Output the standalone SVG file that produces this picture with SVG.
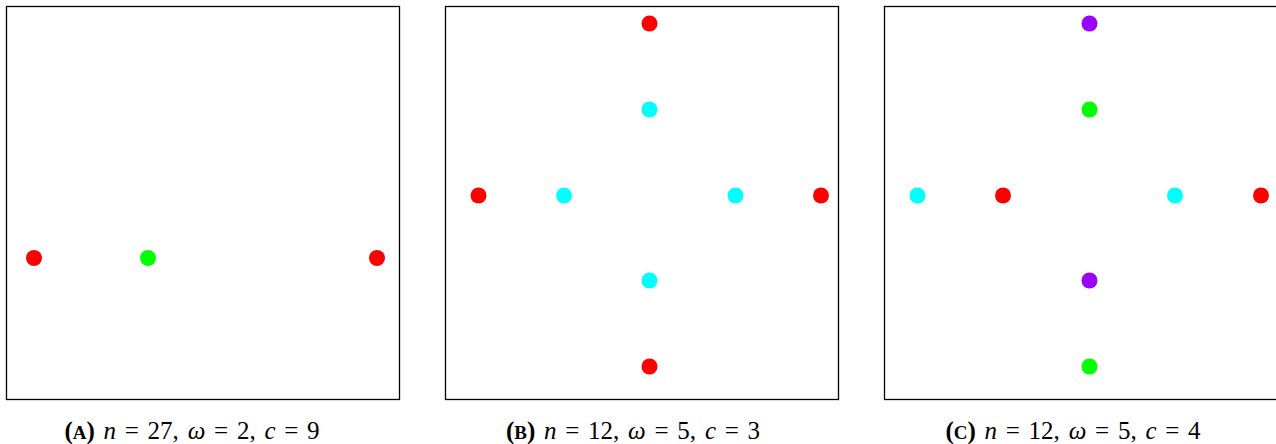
<svg xmlns="http://www.w3.org/2000/svg" width="1276" height="444" viewBox="0 0 1276 444">
<style>
.frame{fill:none;stroke:#000;stroke-width:1.3}
.cap{font-family:"Liberation Serif","Times New Roman",serif;font-size:25px;word-spacing:2.5px;fill:#000}
.lbl{font-weight:bold}
.sc{font-size:19px}
.it{font-style:italic}
.r{fill:#ff0000}.g{fill:#00ff00}.c{fill:#00ffff}.p{fill:#9900ff}
</style>
<rect width="1276" height="444" fill="#fff"/>
<g id="connectors"></g>
<g id="panelA">
<rect class="frame" x="6.5" y="6.5" width="393" height="393"/>
<g id="a1"><circle class="r" cx="34" cy="258" r="8"/></g>
<g id="a2"><circle class="g" cx="148" cy="258" r="8"/></g>
<g id="a3"><circle class="r" cx="377" cy="258" r="8"/></g>
<text class="cap" x="192" y="439" text-anchor="middle"><tspan class="lbl">(<tspan class="sc">A</tspan>)</tspan> <tspan class="it">n</tspan> = 27, <tspan class="it">ω</tspan> = 2, <tspan class="it">c</tspan> = 9</text>
</g>
<g id="panelB">
<rect class="frame" x="445.5" y="6.5" width="393" height="393"/>
<g id="b1"><circle class="r" cx="649.5" cy="23.5" r="8"/></g>
<g id="b2"><circle class="c" cx="649.5" cy="109.5" r="8"/></g>
<g id="b3"><circle class="r" cx="478.5" cy="195.5" r="8"/></g>
<g id="b4"><circle class="c" cx="564" cy="195.5" r="8"/></g>
<g id="b5"><circle class="c" cx="735.5" cy="195.5" r="8"/></g>
<g id="b6"><circle class="r" cx="821" cy="195.5" r="8"/></g>
<g id="b7"><circle class="c" cx="649.5" cy="280.5" r="8"/></g>
<g id="b8"><circle class="r" cx="649.5" cy="366.5" r="8"/></g>
<text class="cap" x="633" y="439" text-anchor="middle"><tspan class="lbl">(<tspan class="sc">B</tspan>)</tspan> <tspan class="it">n</tspan> = 12, <tspan class="it">ω</tspan> = 5, <tspan class="it">c</tspan> = 3</text>
</g>
<g id="panelC">
<rect class="frame" x="884.5" y="6.5" width="393" height="393"/>
<g id="c1"><circle class="p" cx="1089.5" cy="23.5" r="8"/></g>
<g id="c2"><circle class="g" cx="1089.5" cy="109.5" r="8"/></g>
<g id="c3"><circle class="c" cx="917.5" cy="195.5" r="8"/></g>
<g id="c4"><circle class="r" cx="1003" cy="195.5" r="8"/></g>
<g id="c5"><circle class="c" cx="1175" cy="195.5" r="8"/></g>
<g id="c6"><circle class="r" cx="1261" cy="195.5" r="8"/></g>
<g id="c7"><circle class="p" cx="1089.5" cy="280.5" r="8"/></g>
<g id="c8"><circle class="g" cx="1089.5" cy="366.5" r="8"/></g>
<text class="cap" x="1073" y="439" text-anchor="middle"><tspan class="lbl">(<tspan class="sc">C</tspan>)</tspan> <tspan class="it">n</tspan> = 12, <tspan class="it">ω</tspan> = 5, <tspan class="it">c</tspan> = 4</text>
</g>
</svg>
